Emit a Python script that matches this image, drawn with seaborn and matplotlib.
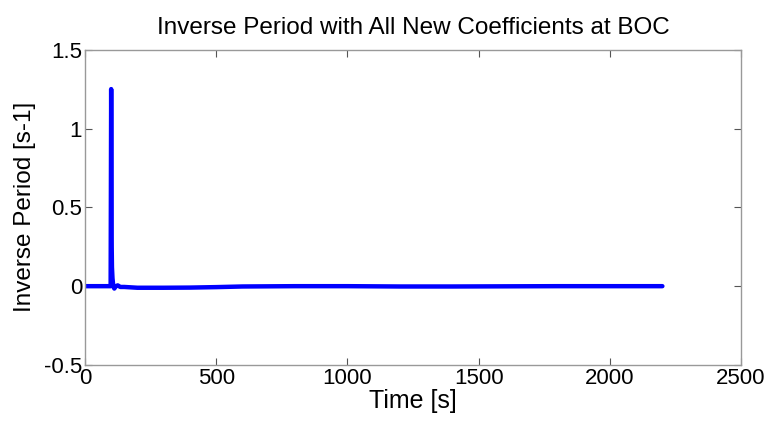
import matplotlib
matplotlib.use("Agg")
import matplotlib.pyplot as plt
import seaborn as sns
import pandas as pd

time_s = [0, 98, 99, 100, 101, 102, 103, 105, 108, 112, 118, 125, 135, 150, 200, 300, 400, 500, 600, 800, 1000, 1200, 1400, 1600, 1800, 2000, 2200]
inv_period = [0.0, 0.0, 0.6, 1.25, 0.7, 0.25, 0.12, 0.05, 0.0, -0.015, 0.0, 0.005, -0.005, -0.005, -0.01, -0.01, -0.009, -0.006, -0.002, 0.0, 0.0, -0.002, -0.002, -0.001, 0.0, 0.0, 0.0]

x_ticks = [0, 500, 1000, 1500, 2000, 2500]
y_ticks = [-0.5, 0, 0.5, 1, 1.5]
y_tick_labels = ["-0.5", "0", "0.5", "1", "1.5"]

sns.set_style("white")
plt.rcParams['font.family'] = ['Liberation Sans', 'DejaVu Sans']

df = pd.DataFrame({"Time": time_s, "Inv": inv_period})

fig = plt.figure(figsize=(7.72, 4.21), dpi=100)
ax = fig.add_axes([0.110, 0.133, 0.850, 0.749])
sns.lineplot(data=df, x="Time", y="Inv", ax=ax, color="#0000ff", linewidth=3.2, estimator=None, sort=False)

ax.set_xlim(0, 2500)
ax.set_ylim(-0.5, 1.5)
ax.set_xticks(x_ticks)
ax.set_xticklabels([str(t) for t in x_ticks])
ax.set_yticks(y_ticks)
ax.set_yticklabels(y_tick_labels)
ax.tick_params(direction="in", length=5, width=0.8, color="#555555", labelsize=16,
               labelcolor="black", top=True, right=True, bottom=True, left=True, pad=2)
for sp in ax.spines.values():
    sp.set_color("#999999")
    sp.set_linewidth(1.0)
ax.set_xlabel("Time [s]", fontsize=18, labelpad=0, color="black")
ax.set_ylabel("Inverse Period [s-1]", fontsize=17.5, labelpad=6, color="black")
ax.set_title("Inverse Period with All New Coefficients at BOC", fontsize=17.5, pad=11, color="black")

fig.savefig("out.png", dpi=100)
